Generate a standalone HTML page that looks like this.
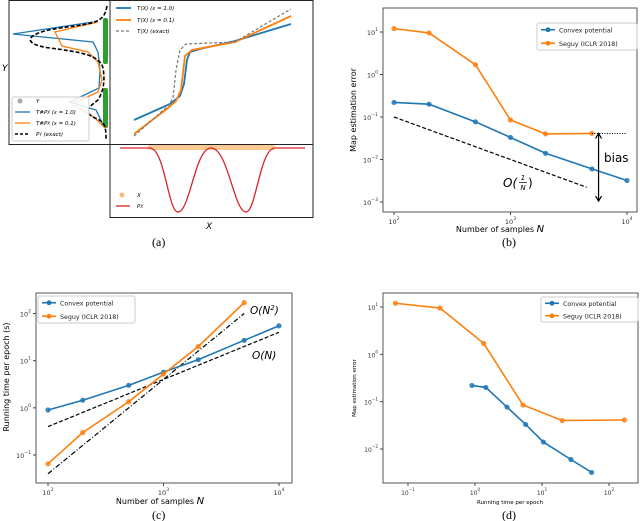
<!DOCTYPE html>
<html><head><meta charset="utf-8"><style>
body{margin:0;background:#fff;}
svg{display:block;font-family:"DejaVu Sans","Liberation Sans",sans-serif;}
.cap{font-family:"Liberation Serif",serif;font-size:12px;}
</style></head><body>
<svg id="fig" width="640" height="521" viewBox="0 0 640 521" xmlns="http://www.w3.org/2000/svg">
<g>
  <rect x="9" y="0.5" width="101" height="144" fill="none" stroke="#222"/>
  <rect x="110" y="0.5" width="203" height="144" fill="none" stroke="#222"/>
  <rect x="110" y="144.5" width="203" height="73" fill="none" stroke="#222"/>
  <rect x="103" y="18" width="5" height="46" rx="2" fill="#2ca02c"/>
  <rect x="103" y="88" width="5" height="40" rx="2" fill="#2ca02c"/>
  <polyline fill="none" stroke="#1f77b4" stroke-width="1.3" points="93,22 13,34 93,42 98,52 100,70 99,88 70,102 96,110 104,127"/>
  <polyline fill="none" stroke="#ff7f0e" stroke-width="1.3" points="98,22 55,32 62,46 88,52 98,62 102,80 98,92 72,104 95,118 105,128"/>
  <path fill="none" stroke="#000" stroke-width="1.6" stroke-dasharray="4,2" d="M107,6 C104,22 98,23 60,28 C25,33 20,44 50,48 C80,52 100,55 103,68 C105,80 104,90 98,100 C90,106 82,112 95,118 C105,122 106,126 106,140"/>
  <g>
    <rect x="12" y="97" width="77" height="44" rx="2" fill="#fff" fill-opacity="0.85" stroke="#ccc"/>
    <circle cx="20" cy="101" r="2.5" fill="#aaa"/><text x="36" y="103" font-size="5.5" font-style="italic">Y</text>
    <line x1="15" y1="112" x2="30" y2="112" stroke="#1f77b4" stroke-width="1.3"/><text x="36" y="114" font-size="5.5" font-style="italic">T#P<tspan font-size="4">X</tspan> (ε = 1.0)</text>
    <line x1="15" y1="123" x2="30" y2="123" stroke="#ff7f0e" stroke-width="1.3"/><text x="36" y="125" font-size="5.5" font-style="italic">T#P<tspan font-size="4">X</tspan> (ε = 0.1)</text>
    <line x1="15" y1="134" x2="30" y2="134" stroke="#000" stroke-width="1.5" stroke-dasharray="3,2"/><text x="36" y="136" font-size="5.5" font-style="italic">P<tspan font-size="4">Y</tspan> (exact)</text>
  </g>
  <text x="2" y="71" font-size="9" font-style="italic">Y</text>
  <polyline fill="none" stroke="#1f77b4" stroke-width="1.8" points="134,120 170,104 180,96 184,84 187,60 190,52 200,49 235,41 291,24"/>
  <polyline fill="none" stroke="#ff7f0e" stroke-width="1.8" points="134,134 168,108 176,101 181,90 185,56 192,50 235,42 291,16"/>
  <polyline fill="none" stroke="#777" stroke-width="1.2" stroke-dasharray="3,2" points="134,136 168,106 173,98 176,70 180,50 186,44 235,42 291,9"/>
  <g>
    <line x1="116" y1="8" x2="131" y2="8" stroke="#1f77b4" stroke-width="1.8"/><text x="137" y="10" font-size="5.5" font-style="italic">T(X) (ε = 1.0)</text>
    <line x1="116" y1="20" x2="131" y2="20" stroke="#ff7f0e" stroke-width="1.8"/><text x="137" y="22" font-size="5.5" font-style="italic">T(X) (ε = 0.1)</text>
    <line x1="116" y1="31" x2="131" y2="31" stroke="#777" stroke-width="1.2" stroke-dasharray="3,2"/><text x="137" y="33" font-size="5.5" font-style="italic">T(X) (exact)</text>
  </g>
  <rect x="148" y="145" width="127" height="5" rx="2" fill="#ffbb78" opacity="0.8"/>
  <path fill="none" stroke="#d62728" stroke-width="1.3" d="M120,148 L150,148 C165,149 168,212 178,212 C190,212 195,148 211,148 C228,148 234,212 246,212 C256,212 260,148 275,148 L305,148"/>
  <g>
    <circle cx="122" cy="195" r="2.5" fill="#ffbb78"/><text x="137" y="197" font-size="5.5" font-style="italic">X</text>
    <line x1="116" y1="206" x2="130" y2="206" stroke="#d62728" stroke-width="1.3"/><text x="137" y="208" font-size="5.5" font-style="italic">P<tspan font-size="4">X</tspan></text>
  </g>
  <text x="206" y="229" font-size="9" font-style="italic">X</text>
  <text x="152" y="246" class="cap">(a)</text>
</g>
<g id="pb"></g>
<g id="pc"></g>
<g id="pd"></g>
</svg>
<script>
const samplesN = [100,200,500,1000,2000,5000,10000];
const samplesSeguy = [100,200,500,1000,2000,5000];
const errConvex = [0.22,0.2,0.077,0.033,0.014,0.006,0.0032];
const errSeguy = [12,9.5,1.7,0.085,0.04,0.041];
const timeConvex = [0.9,1.45,3.0,5.7,10.5,27,55];
const timeSeguy = [0.065,0.3,1.35,5.2,20,170];
const ticksB = [-3,-2,-1,0,1];
const ticksXN = [2,3,4];
const ticksC = [-1,0,1,2];
const ticksXD = [-1,0,1,2];
const ticksYD = [-2,-1,0,1];
const BLUE="#1f77b4", ORANGE="#ff7f0e", NS="http://www.w3.org/2000/svg";

function el(parent,tag,attrs,txt){const e=document.createElementNS(NS,tag);for(const k in attrs)e.setAttribute(k,attrs[k]);if(txt!==undefined)e.innerHTML=txt;parent.appendChild(e);return e;}
function logAxis(v0,p0,v1,p1){const a=Math.log10(v0),b=Math.log10(v1);return v=>p0+(Math.log10(v)-a)/(b-a)*(p1-p0);}

function frame(g,x0,y0,x1,y1,sx,sy,xt,yt,fs){
  const r=el(g,'rect',{x:x0,y:y0,width:x1-x0,height:y1-y0,fill:'none',stroke:'#444','stroke-width':0.9});
  
  
  xt.forEach(p=>{const x=sx(Math.pow(10,p));
    const l=el(g,'line',{x1:x,y1:y1,x2:x,y2:y1+3,stroke:'#444'});
    
    
    const t=el(g,'text',{x:x,y:y1+12,'font-size':fs,'text-anchor':'middle',fill:'#333'},'10<tspan font-size="'+(fs*0.7)+'" dy="-4">'+(p<0?'−':'')+Math.abs(p)+'</tspan>');
    
    });
  yt.forEach(p=>{const y=sy(Math.pow(10,p));
    const l=el(g,'line',{x1:x0-3,y1:y,x2:x0,y2:y,stroke:'#444'});
    
    
    const t=el(g,'text',{x:x0-5,y:y+3,'font-size':fs,'text-anchor':'end',fill:'#333'},'10<tspan font-size="'+(fs*0.7)+'" dy="-4">'+(p<0?'−':'')+Math.abs(p)+'</tspan>');
    
    });
}
function series(g,xs,ys,sx,sy,col,name){
  const pts=xs.map((x,i)=>sx(x)+','+sy(ys[i])).join(' ');
  const pl=el(g,'polyline',{points:pts,fill:'none',stroke:col,'stroke-width':1.6});
  
  
  xs.forEach((x,i)=>{const c=el(g,'circle',{cx:sx(x),cy:sy(ys[i]),r:2.6,fill:col,'fill-opacity':0.85});
    
    });
}
function legend(g,x,y,w,h,fs){
  const lg=el(g,'g',{});
  
  
  el(lg,'rect',{x:x,y:y,width:w,height:h,rx:2,fill:'#fff',stroke:'#ccc'});
  [[BLUE,'Convex potential'],[ORANGE,'Seguy (ICLR 2018)']].forEach((d,i)=>{const yy=y+h*(i*2+1)/4;
    el(lg,'line',{x1:x+4,y1:yy,x2:x+18,y2:yy,stroke:d[0],'stroke-width':1.6});
    el(lg,'circle',{cx:x+11,cy:yy,r:2.4,fill:d[0]});
    el(lg,'text',{x:x+22,y:yy+2.5,'font-size':fs,fill:'#222'},d[1]);});
}
// Panel b
(function(){const g=document.getElementById('pb');
  const sx=logAxis(100,394,10000,627), sy=logAxis(10,32,0.001,202);
  frame(g,383,8,637,212,sx,sy,ticksXN,ticksB,6.5);
  series(g,samplesN,errConvex,sx,sy,BLUE,'convex-b');
  series(g,samplesSeguy,errSeguy,sx,sy,ORANGE,'seguy-b');
  const d=el(g,'line',{x1:sx(100),y1:sy(0.1),x2:sx(4500),y2:sy(0.1*100/4500),stroke:'#000','stroke-width':1.2,'stroke-dasharray':'4,2'});
  
  
  const h=el(g,'line',{x1:sx(5000),y1:sy(0.041),x2:sx(10000),y2:sy(0.041),stroke:'#000','stroke-dasharray':'1,1.5'});
  
  
  const ax=sx(5700);
  const ar=el(g,'path',{d:`M${ax},${sy(0.041)} L${ax},${sy(0.00105)} M${ax-3},${sy(0.041)+5} L${ax},${sy(0.041)} L${ax+3},${sy(0.041)+5} M${ax-3},${sy(0.00105)-5} L${ax},${sy(0.00105)} L${ax+3},${sy(0.00105)-5}`,fill:'none',stroke:'#000','stroke-width':1.2});
  
  
  const bt=el(g,'text',{x:604,y:162,'font-size':12},'bias');
  
  
  const og=el(g,'g',{});
  
  
  el(og,'text',{x:503,y:187,'font-size':12,'font-style':'italic'},'O(');
  el(og,'text',{x:523,y:180,'font-size':7,'text-anchor':'middle','font-style':'italic'},'1');
  el(og,'line',{x1:519,y1:182.5,x2:527,y2:182.5,stroke:'#000','stroke-width':0.7});
  el(og,'text',{x:523,y:190,'font-size':7,'text-anchor':'middle','font-style':'italic'},'N');
  el(og,'text',{x:528,y:187,'font-size':12},')');
  legend(g,537,23,100,27,6.3);
  const yl=el(g,'text',{x:0,y:0,'font-size':8,'text-anchor':'middle',transform:'translate(356,110) rotate(-90)'},'Map estimation error');
  
  
  const xl=el(g,'text',{x:500,y:232,'font-size':8,'text-anchor':'middle'},'Number of samples  <tspan font-style="italic" font-size="10">N</tspan>');
  
  
  const cp=el(g,'text',{x:502,y:246,class:'cap'},'(b)');
  
  
})();
// Panel c
(function(){const g=document.getElementById('pc');
  const sx=logAxis(100,48,10000,279), sy=logAxis(100,313.5,0.1,455);
  frame(g,36,293,292,483,sx,sy,ticksXN,ticksC,6.5);
  const l1=el(g,'line',{x1:sx(100),y1:sy(0.4),x2:sx(10000),y2:sy(40),stroke:'#000','stroke-width':1.2,'stroke-dasharray':'4,2'});
  
  
  const l2=el(g,'line',{x1:sx(100),y1:sy(0.04),x2:sx(5000),y2:sy(100),stroke:'#000','stroke-width':1.2,'stroke-dasharray':'5,2,1,2'});
  
  
  series(g,samplesN,timeConvex,sx,sy,BLUE,'convex-c');
  series(g,samplesSeguy,timeSeguy,sx,sy,ORANGE,'seguy-c');
  const t1=el(g,'text',{x:250,y:314,'font-size':10.5,'font-style':'italic'},'O(N<tspan font-size="7" dy="-4">2</tspan><tspan dy="4">)</tspan>');
  
  
  const t2=el(g,'text',{x:252,y:359,'font-size':10.5,'font-style':'italic'},'O(N)');
  
  
  legend(g,38,296,97,27,6.3);
  const yl=el(g,'text',{x:0,y:0,'font-size':8,'text-anchor':'middle',transform:'translate(9,377) rotate(-90)'},'Running time per epoch (s)');
  
  
  const xl=el(g,'text',{x:160,y:504,'font-size':8,'text-anchor':'middle'},'Number of samples  <tspan font-style="italic" font-size="10">N</tspan>');
  
  
  const cp=el(g,'text',{x:152,y:519,class:'cap'},'(c)');
  
  
})();
// Panel d
(function(){const g=document.getElementById('pd');
  const sx=logAxis(0.1,408,100,609), sy=logAxis(10,307,0.01,449);
  frame(g,383,293,638,483,sx,sy,ticksXD,ticksYD,6);
  series(g,timeConvex,errConvex,sx,sy,BLUE,'convex-d');
  series(g,timeSeguy,errSeguy,sx,sy,ORANGE,'seguy-d');
  legend(g,541,297,97,25,6.3);
  const yl=el(g,'text',{x:0,y:0,'font-size':5.5,'text-anchor':'middle',transform:'translate(356,388) rotate(-90)'},'Map estimation error');
  
  
  const xl=el(g,'text',{x:510,y:504,'font-size':5.5,'text-anchor':'middle'},'Running time per epoch');
  
  
  const cp=el(g,'text',{x:502,y:519,class:'cap'},'(d)');
  
  
})();
</script>
</body></html>
